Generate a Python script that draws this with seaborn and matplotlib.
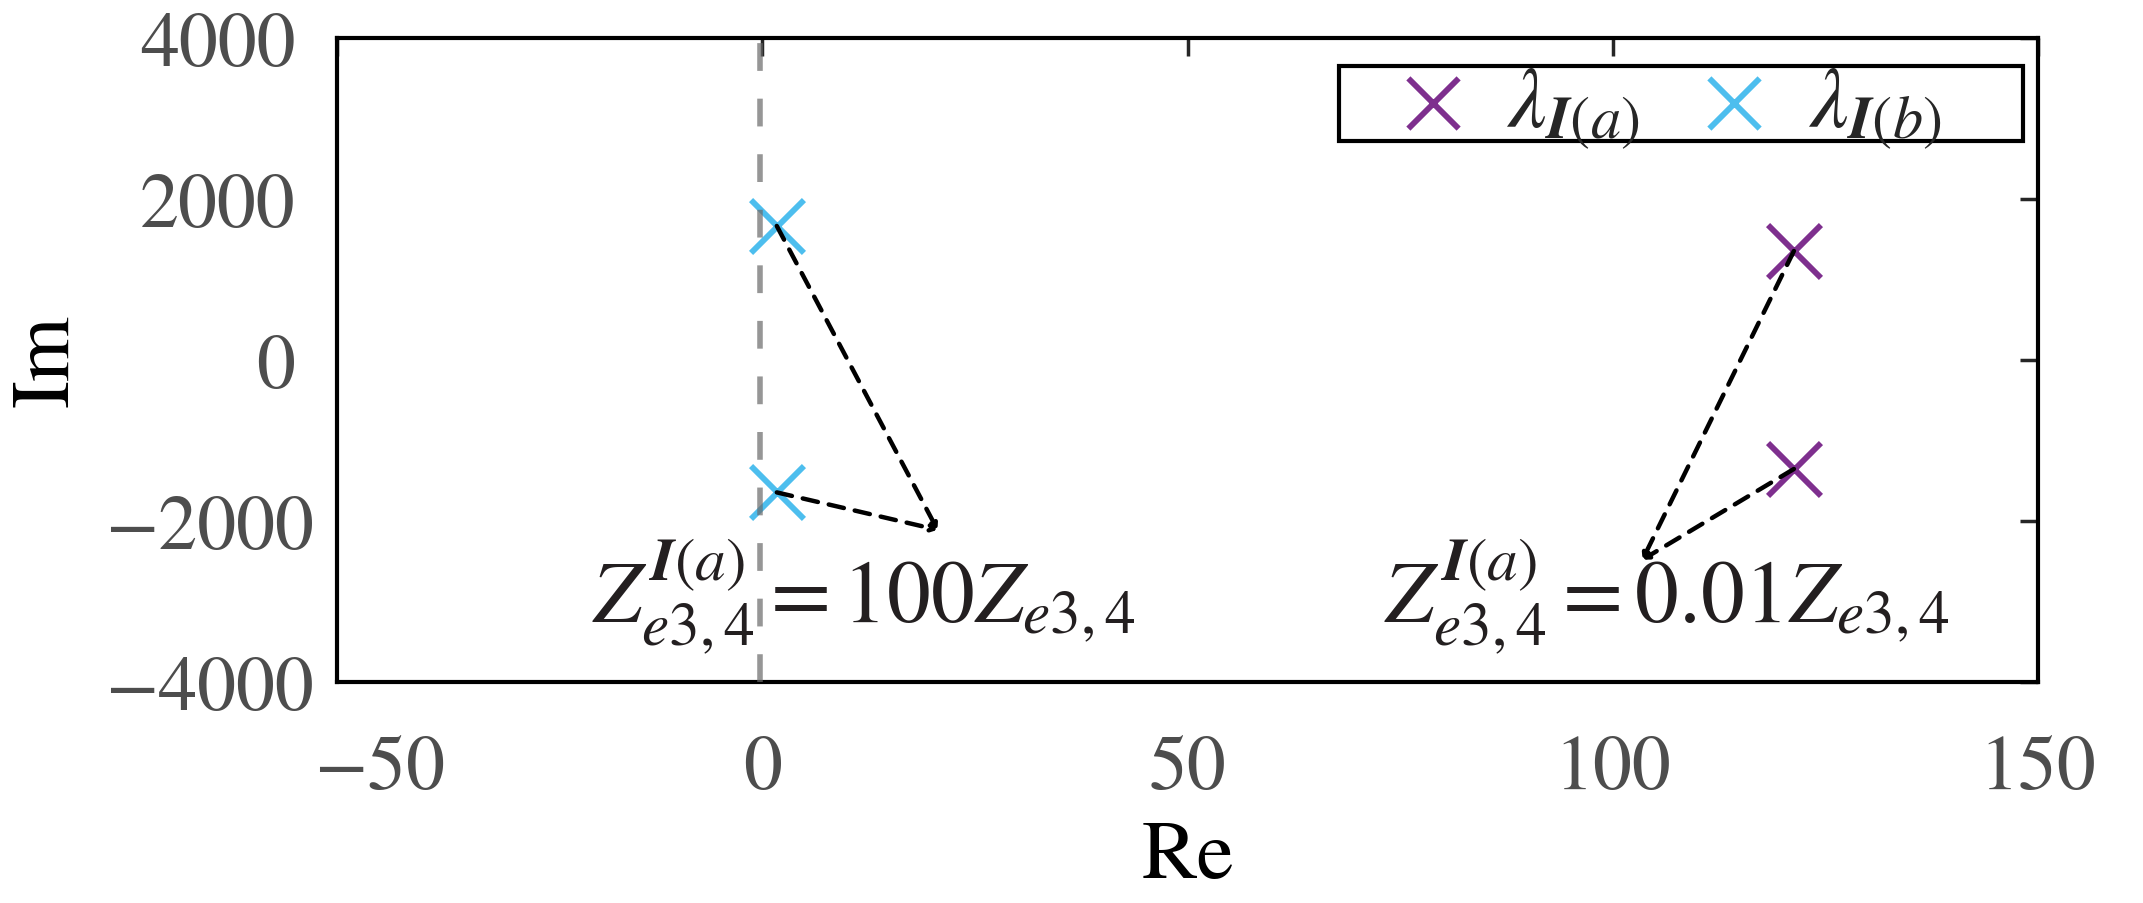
import numpy as np
import pandas as pd
import seaborn as sns
import matplotlib.pyplot as plt
import matplotlib.transforms as mtransforms
from matplotlib.patches import Rectangle

# eigenvalue data
re_a = [121.3, 121.3]
im_a = [1354, -1354]
re_b = [1.7, 1.7]
im_b = [1665, -1645]

# where the dashed pointer lines meet (near each label)
tip_b = (20.6, -2110)
tip_a = (103.5, -2480)

x_ticks = [-50, 0, 50, 100, 150]
y_ticks = [-4000, -2000, 0, 2000, 4000]

purple = '#7E2F8E'
cyan = '#4DBEEE'

sns.set_style('white')
plt.rcParams['font.family'] = ['STIXGeneral', 'Liberation Serif', 'DejaVu Serif']
plt.rcParams['mathtext.fontset'] = 'stix'

fig = plt.figure(figsize=(21.43, 9.04), dpi=100)
ax = fig.add_axes([0.1573, 0.2445, 0.7937, 0.7124])

dfa = pd.DataFrame({'re': re_a, 'im': im_a})
dfb = pd.DataFrame({'re': re_b, 'im': im_b})
sns.scatterplot(data=dfa, x='re', y='im', marker='x', s=1450, linewidth=4.2,
                color=purple, ax=ax, label=r'$\lambda_{\mathbfit{I}(a)}$', zorder=3)
sns.scatterplot(data=dfb, x='re', y='im', marker='x', s=1450, linewidth=4.2,
                color=cyan, ax=ax, label=r'$\lambda_{\mathbfit{I}(b)}$', zorder=3)

# imaginary axis marker
ax.axvline(-0.25, color='#6a6a6a', lw=4, alpha=0.7, ls=(0, (5, 5)), zorder=4)

# dashed pointers from the markers to the labels
for px, py in zip(re_b, im_b):
    ax.annotate('', xy=tip_b, xytext=(px, py),
                arrowprops=dict(arrowstyle='->,head_length=0.3,head_width=0.18',
                                ls=(0, (3.5, 2.5)), lw=3.2, color='k',
                                shrinkA=0, shrinkB=0), zorder=5)
for px, py in zip(re_a, im_a):
    ax.annotate('', xy=tip_a, xytext=(px, py),
                arrowprops=dict(arrowstyle='->,head_length=0.3,head_width=0.18',
                                ls=(0, (3.5, 2.5)), lw=3.2, color='k',
                                shrinkA=0, shrinkB=0), zorder=5)

ax.text(-20, -3242, r'$Z^{\mathbfit{I}(a)}_{e3,4}=100Z_{e3,4}$', fontsize=63,
        ha='left', va='baseline', color='#231f20')
ax.text(73.1, -3242, r'$Z^{\mathbfit{I}(a)}_{e3,4}=0.01Z_{e3,4}$', fontsize=63,
        ha='left', va='baseline', color='#231f20')

ax.set_xlim(-50, 150)
ax.set_ylim(-4000, 4000)
ax.set_xticks(x_ticks)
ax.set_yticks(y_ticks)
ax.tick_params(direction='in', length=13, width=2.5, labelsize=56,
               labelcolor='#4d4d4d', top=True, right=True)
ax.tick_params(axis='x', pad=38)
ax.tick_params(axis='y', pad=30)
for sp in ax.spines.values():
    sp.set_linewidth(3)
    sp.set_color('black')

# negative tick labels sit a bit to the right in the original
for lab, v in zip(ax.get_xticklabels(), x_ticks):
    if v < 0:
        lab.set_transform(lab.get_transform() + mtransforms.ScaledTranslation(0.42, 0, fig.dpi_scale_trans))
for lab, v in zip(ax.get_yticklabels(), y_ticks):
    if v < 0:
        lab.set_transform(lab.get_transform() + mtransforms.ScaledTranslation(0.18, 0, fig.dpi_scale_trans))

ax.set_xlabel('Re', fontsize=60, color='black')
ax.set_ylabel('Im', fontsize=60, color='black')
ax.xaxis.set_label_coords(0.5, -0.215)
ax.yaxis.set_label_coords(-0.148, 0.5)

# legend with a tight MATLAB-like box (wide sides, short height)
leg = ax.legend(loc='center', bbox_to_anchor=(0.781, 0.892), ncol=2,
                fontsize=62, frameon=False, borderaxespad=0,
                handlelength=1.0, handletextpad=0.35, columnspacing=0.6,
                borderpad=0.0, markerscale=0.95)
ax.add_patch(Rectangle((0.589, 0.840), 0.402, 0.117, transform=ax.transAxes,
                       facecolor='white', edgecolor='black', lw=3, zorder=6))
leg.set_zorder(7)

fig.savefig('out.png', dpi=100)
